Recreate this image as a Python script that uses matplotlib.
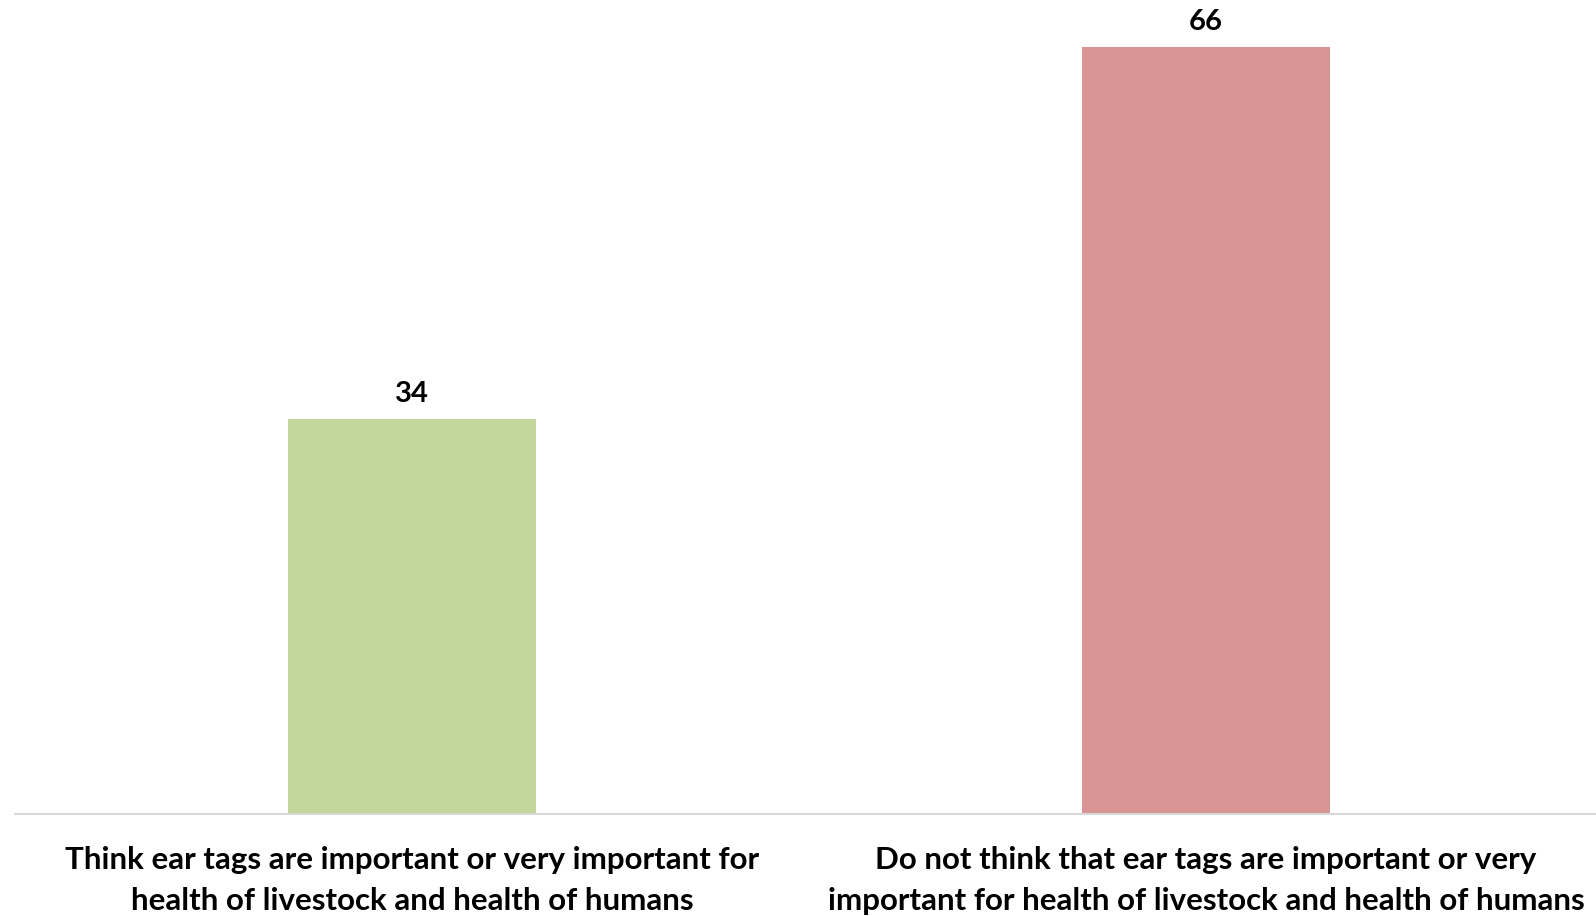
import matplotlib.pyplot as plt

# data
categories = ["Think ear tags are important or very important for\nhealth of livestock and health of humans",
              "Do not think that ear tags are important or very\nimportant for health of livestock and health of humans"]
values = [34, 66]
colors = ["#C3D69B", "#D99594"]

plt.rcParams['font.family'] = ['Lato', 'DejaVu Sans']

fig = plt.figure(figsize=(15.96, 9.16), dpi=100)
ax = fig.add_axes([0.0094, 0.1114, 0.995, 0.8886])

x = range(len(values))
bars = ax.bar(x, values, width=0.313, color=colors)

# 数据标签
for b, v in zip(bars, values):
    ax.annotate(str(v), (b.get_x() + b.get_width() / 2, v), xytext=(0, 18),
                textcoords="offset points", ha="center", va="center",
                fontsize=21, fontweight="bold", color="black")

ax.set_xlim(-0.5, 1.5)
ax.set_ylim(0, 70)
ax.set_xticks(list(x))
ax.set_xticklabels(categories, fontsize=22.5, fontweight="bold", linespacing=1.58)
ax.tick_params(axis="x", length=0, pad=23)
ax.set_yticks([])
for s in ["top", "right", "left"]:
    ax.spines[s].set_visible(False)
ax.spines["bottom"].set_color("#D9D9D9")
ax.spines["bottom"].set_linewidth(1.5)

plt.savefig("out.png", dpi=100)
